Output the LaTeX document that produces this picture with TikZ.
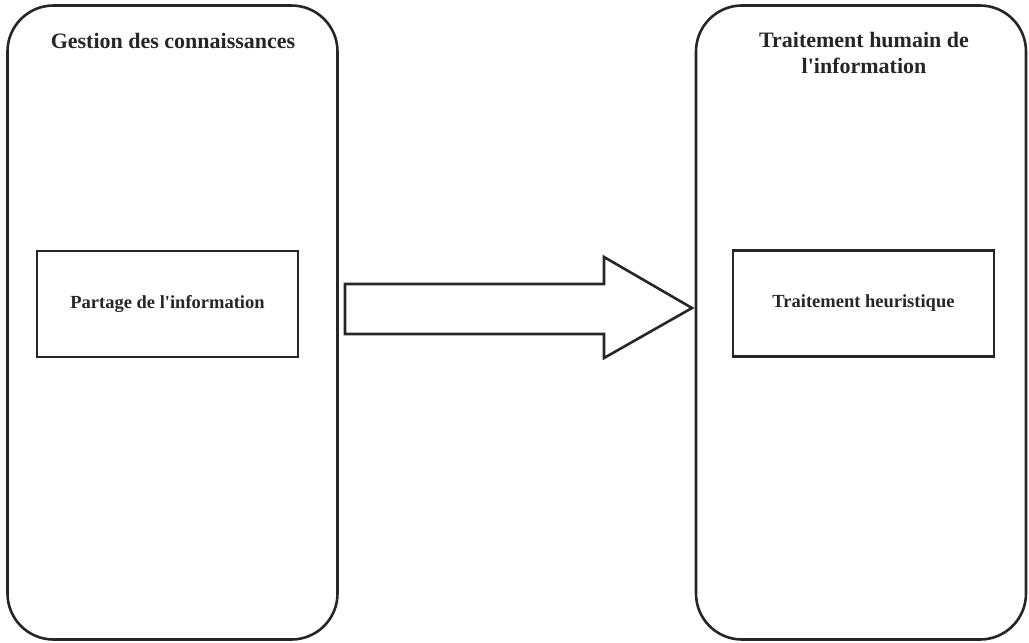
\documentclass[tikz,border=0pt]{standalone}
\usepackage{fontspec}
\setmainfont{Liberation Serif}
\begin{document}
\begin{tikzpicture}[x=1pt,y=-1pt,
  line/.style={draw=black!85, line width=2.6pt},
  panel/.style={line, rounded corners=46pt, minimum width=330pt, minimum height=634pt, inner sep=0pt},
  inbox/.style={line, minimum width=261pt, minimum height=106pt, inner sep=0pt},
  lbl/.style={font=\fontsize{18.5}{24}\selectfont\bfseries, text=black!85, align=center},
  ttl/.style={font=\fontsize{22}{26}\selectfont\bfseries, text=black!85, align=center}]
  \useasboundingbox (0,0) rectangle (1029,643);
  % two side panels
  \node[panel] (gc) at (172.5,322.5) {};
  \node[panel] (th) at (861,322.5) {};
  % panel titles
  \node[ttl] (gct) at (173,41) {Gestion des connaissances};
  \node[ttl] (tht) at (864,53) {Traitement humain de\\l\textquotesingle information};
  % inner boxes
  \node[inbox, lbl] (pi) at (167.5,304) {Partage de l\textquotesingle information};
  \node[inbox, lbl] (tb) at (863.5,303.5) {Traitement heuristique};
  % block arrow between the panels
  \coordinate (a0) at (345,284);
  \draw[line, line join=miter] (a0) -- (604,284) -- (604,257) -- (692,308)
     -- (604,358) -- (604,334) -- (345,334) -- cycle;
\end{tikzpicture}
\end{document}
